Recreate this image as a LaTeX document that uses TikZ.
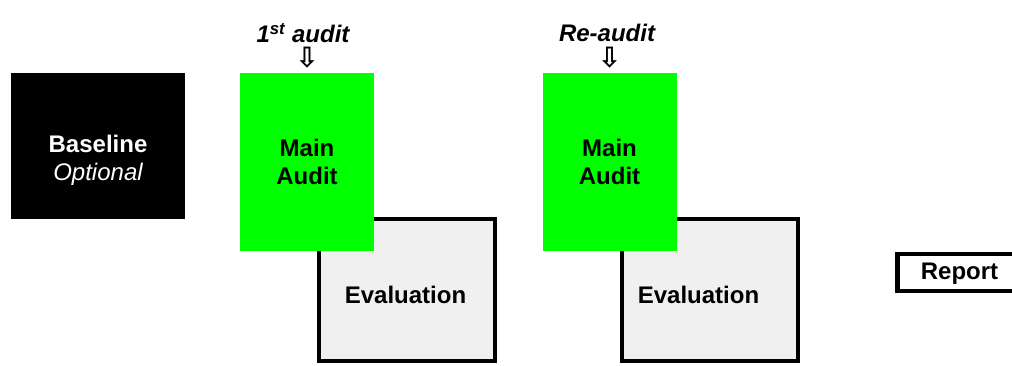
\documentclass[tikz,border=0pt]{standalone}
\usepackage{fontspec}
\setmainfont{Liberation Sans}
\newfontfamily\symfont{DejaVu Sans}
\usetikzlibrary{positioning}
\definecolor{auditgreen}{HTML}{00FF00}
\definecolor{evalgray}{HTML}{F0F0F0}

\begin{document}
\begin{tikzpicture}[x=0.75pt, y=-0.75pt,
    every node/.style={font=\fontsize{18}{21}\selectfont\bfseries, align=center},
    basebox/.style={fill=black, minimum width=130.5pt, minimum height=109.5pt, inner sep=0},
    auditbox/.style={fill=auditgreen, minimum width=100.5pt, minimum height=133.5pt, inner sep=0},
    evalbox/.style={draw=black, line width=3pt, fill=evalgray, minimum width=132pt, minimum height=106.5pt, inner sep=0},
    toplabel/.style={font=\fontsize{18}{21}\selectfont\bfseries\itshape},
    downarrow/.style={font=\symfont\bfseries\fontsize{21}{21}\selectfont, inner sep=0}]
        \useasboundingbox (0,0) rectangle (1012,365);
        \clip (0,0) rectangle (1012,365);

        % Baseline
        \node[basebox] (base) at (98,146) {};
        \node[text=white] (basetxt) at (98,160) {Baseline\\\mdseries\itshape Optional};

        % Evaluation boxes
        \node[evalbox] (eval1) at (407,290) {};
        \node[evalbox] (eval2) at (710,290) {};
        \node (eval1txt) at (405.5,295) {Evaluation};
        \node (eval2txt) at (698.5,295) {Evaluation};

        % Main audits
        \node[auditbox] (audit1) at (307,162) {Main\\Audit};
        \node[auditbox] (audit2) at (609.5,162) {Main\\Audit};

        % Labels
        \node[toplabel] (lab1) at (303,33) {1\textsuperscript{st} audit};
        \node[toplabel] (lab2) at (607,33) {Re-audit};
        \node[downarrow] (arr1) at (307,58) {⇩};
        \node[downarrow] (arr2) at (609.5,58) {⇩};

        % Report
        \node[draw=black, line width=3.5pt, minimum width=108.75pt, minimum height=27.75pt, inner sep=0, anchor=west] (report) at (895,272.5) {};
        \node (reporttxt) at (959.5,274) {Report};
    \end{tikzpicture}
\end{document}
